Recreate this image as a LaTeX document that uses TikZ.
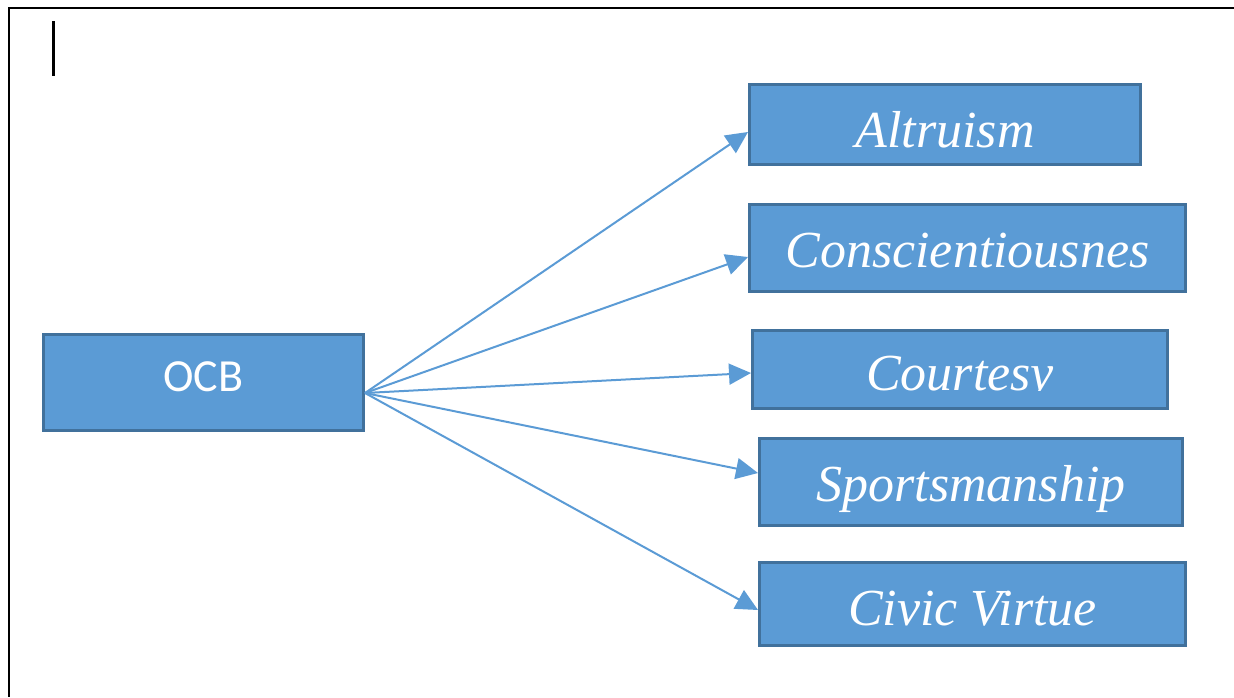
\documentclass[tikz,border=0pt]{standalone}
\usepackage{fontspec}
\setmainfont{Liberation Serif}
\newfontfamily\ocbfont{Carlito}
\usetikzlibrary{arrows.meta,calc}
\definecolor{boxfill}{HTML}{5B9BD5}
\definecolor{boxline}{HTML}{41719C}
\tikzset{
  catbox/.style={draw=boxline, fill=boxfill, line width=3pt, inner sep=0pt,
    text=white, font=\fontsize{52}{60}\selectfont\itshape},
  link/.style={boxfill, line width=2pt, -{Triangle[length=22pt,width=21pt]}}
}
\begin{document}
\begin{tikzpicture}[x=1pt,y=-1pt]
      \useasboundingbox (0,0) rectangle (1234,697);
      \draw[line width=2pt] (1234,7.5) -- (9,7.5) -- (9,697);
      \fill (52,21) rectangle (55,76);
      \node[catbox, font=\ocbfont\fontsize{46}{54}\selectfont, anchor=north west,
        minimum width=320pt, text height=56.5pt, text depth=39.5pt] (ocb) at (42,333) {OCB};
      \coordinate (src) at ([yshift=-10.5pt]ocb.east);
      \def \Boxes{
        altruism/748/83/394/83/7.5/Altruism,
        consc/748/203/439/90/9/Conscientiousnes,
        courtesy/751/329/418/81/3.5/{},
        sports/758/437/426/90/-9/Sportsmanship,
        civic/758/561/429/86/6/Civic Virtue}
      \foreach \id / \x / \y / \w / \h / \dy / \lb in \Boxes{
        \node[catbox, anchor=north west, minimum width={\w-3}, text height=62.5pt,
          text depth={\h-65.5}] (\id) at (\x, \y) {\lb};
        \path[draw, link] (src) -- ($(\id.west)+(0,\dy)$);
      }
      % text of the third box is cut off at the bottom
      \begin{scope}
        \clip (courtesy.north west) rectangle ($(courtesy.north east)+(0,61)$);
        \node[anchor=base, text=white, font=\fontsize{52}{60}\selectfont\itshape]
          at ($(courtesy.north)+(0,61)$) {Courtesy};
      \end{scope}
    \end{tikzpicture}
\end{document}
